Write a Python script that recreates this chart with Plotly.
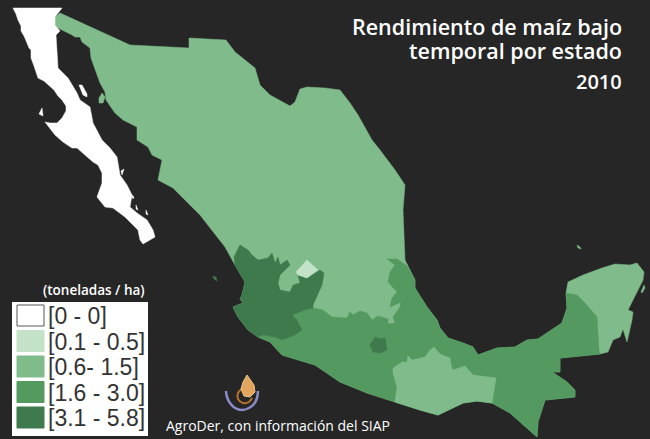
import plotly.graph_objects as go

BG = "#262626"
C0, C1, C2, C3, C4 = "#FFFFFF", "#C3E2C8", "#80BC8B", "#54995F", "#3F7A4C"

# Map outlines (map units match the reference's pixels)
mainland = [(55,17),(60,13),(130,45),(189,48),(189,38),(226,40),(235,52),(255,68),(260,85),(270,95),(290,106),
 (295,102),(300,89),(307,87),(325,88),(340,90),(350,103),(358,115),(372,140),(380,150),(395,170),(405,185),
 (403,210),(404,250),(405,260),(415,280),(415,288),(427,307),(437,320),(440,328),(448,338),(463,343),(473,347),(478,355),
 (497,348),(515,347),(527,340),(538,339),(562,323),(567,308),(566,293),(568,282),(583,275),(602,268),(615,264),
 (630,265),(637,263),(644,272),(643,280),(633,300),(628,310),(633,312),(632,320),(627,342),(623,329),(620,337),
 (613,340),(608,352),(600,354),(560,358),(560,372),(552,372),(567,382),(575,390),(575,397),(545,400),(538,422),
 (537,437),(510,413),(492,403),(477,401),(463,403),(438,415),(420,410),(395,402),(367,393),(340,382),(315,365),
 (282,355),(270,342),(258,337),(248,330),(238,317),(233,307),(243,303),(240,299),(242,295),(245,282),(235,265),(225,247),
 (200,215),(183,198),(173,188),(158,180),(162,160),(152,155),(148,147),(137,140),(137,127),(123,120),(115,113),
 (106,100),(105,92),(100,83),(95,68),(91,58),(90,48),(82,42),(80,37),(75,37),(72,35),(58,28),(55,25)]
baja = [(13,8),(16,14),(18,20),(21,26),(21,31),(24,36),(27,43),(29,48),(31,50),(31,58),(34,66),(36,73),(38,78),(44,81),
 (50,86),(54,90),(58,96),(62,100),(66,106),(66,111),(62,118),(57,123),(50,123),(45,122),(55,135),(63,142),(72,148),
 (77,148),(85,155),(93,162),(98,165),(102,173),(102,183),(98,193),(97,197),(105,207),(113,208),(125,217),(138,230),
 (140,240),(143,244),(155,237),(153,230),(147,220),(137,213),(130,207),(132,195),(127,185),(120,175),(117,157),
 (110,148),(102,140),(93,123),(90,107),(80,100),(77,93),(68,78),(58,68),(57,50),(56,35),(60,31),(55,25),(55,17),(62,8)]
medium = [(258,337),(263,335),(275,337),(282,340),(295,335),(302,330),(297,320),(292,315),(305,310),(313,308),(323,310),
 (332,317),(347,318),(350,312),(353,315),(360,311),(367,313),(372,320),(378,316),(388,319),(388,324),(395,323),(393,317),
 (400,307),(401,302),(390,307),(392,298),(397,292),(388,282),(390,272),(395,265),(387,259),(397,259),(407,266),
 (415,280),(415,288),(427,307),(437,320),(440,328),(448,338),(463,343),(473,347),(478,355),(497,348),(515,347),(527,340),(538,339),
 (562,323),(567,308),(566,293),(577,295),(585,303),(597,317),(599,350),(600,354),(560,358),(560,372),(552,372),
 (567,382),(575,390),(575,397),(545,400),(538,422),(537,437),(510,413),(492,403),(477,401),(463,403),(438,415),
 (420,410),(395,402),(367,393),(340,382),(315,365),(282,355),(270,342)]
oaxaca = [(393,368),(402,362),(407,362),(408,356),(412,360),(425,357),(430,350),(434,347),(440,354),(450,358),(451,365),
 (453,370),(465,366),(473,375),(496,378),(492,403),(477,401),(463,403),(438,415),(420,410),(395,402),(397,387),(393,373)]
jalisco = [(234,257),(240,245),(248,250),(252,255),(258,260),(268,258),(272,253),(275,263),(278,257),(280,265),(287,260),
 (290,265),(280,275),(278,283),(280,290),(290,292),(293,285),(300,283),(298,275),(307,278),(320,270),(324,273),(322,285),
 (313,305),(313,308),(305,310),(292,315),(297,320),(302,330),(295,335),(282,340),(275,337),(263,335),(258,337),(248,330),
 (238,317),(233,307),(243,303),(240,299),(242,295),(245,282),(235,265)]
morelos = [(370,345),(375,337),(380,339),(385,338),(387,350),(380,353),(373,352)]
zacatecas_spot = [(296,272),(307,260),(318,270),(307,278),(298,275)]
tiburon = [(99,98),(102,93),(105,97),(103,103),(99,103)]
isla_w1 = [(79,85),(82,85),(87,94),(87,97),(83,95)]
isla_w2 = [(39,114),(42,108),(43,116)]
isla_w3 = [(121,171),(124,169),(122,175)]
isla_w4 = [(131,194),(134,197),(133,199)]
isla_w5 = [(136,205),(138,210),(136,209)]
isla_w6 = [(146,210),(148,215),(146,214)]
cozumel = [(641,292),(644,285),(645,288),(642,293)]
mujeres = [(577,245),(580,247),(581,249),(578,248)]
marias = [(213,276),(216,277),(217,281),(214,279)]

regions = [(mainland,C2),(baja,C0),(medium,C3),(oaxaca,C2),(jalisco,C4),(morelos,C4),(zacatecas_spot,C1),
 (tiburon,C2),(isla_w1,C0),(isla_w2,C0),(isla_w3,C0),(isla_w4,C0),(isla_w5,C0),(isla_w6,C0),(cozumel,C2),(mujeres,C2),(marias,C4)]

legend_labels = ["[0 - 0]","[0.1 - 0.5]","[0.6- 1.5]","[1.6 - 3.0]","[3.1 - 5.8]"]
legend_colors = [C0,C1,C2,C3,C4]
legend_tops = [305,330.5,356,381.5,407]

logo_arc = [(226,391),(227,397),(230,403),(235,408),(242,410),(249,408),(254,404),(257,398),(258,391)]
logo_ring = [(243,388),(238,393),(238,399),(243,403),(249,402),(252,398)]
logo_drop = [(247,375),(243,382),(241,389),(244,396),(250,397),(255,392),(254,385),(250,379)]

fig = go.Figure()
for pts, col in regions:
    fig.add_trace(go.Scatter(x=[p[0] for p in pts]+[pts[0][0]], y=[p[1] for p in pts]+[pts[0][1]],
        mode="lines", fill="toself", fillcolor=col, line=dict(color=col, width=0.5), hoverinfo="skip", showlegend=False))
fig.add_trace(go.Scatter(x=[p[0] for p in logo_arc], y=[p[1] for p in logo_arc], mode="lines",
    line=dict(color="#8C8CC8", width=2.5, shape="spline"), hoverinfo="skip", showlegend=False))
fig.add_trace(go.Scatter(x=[p[0] for p in logo_ring], y=[p[1] for p in logo_ring], mode="lines",
    line=dict(color="#B8702A", width=2, shape="spline"), hoverinfo="skip", showlegend=False))
fig.add_trace(go.Scatter(x=[p[0] for p in logo_drop]+[logo_drop[0][0]], y=[p[1] for p in logo_drop]+[logo_drop[0][1]],
    mode="lines", fill="toself", fillcolor="#E3A45C", line=dict(color="#E8C090", width=1), hoverinfo="skip", showlegend=False))

shapes = [dict(type="rect", x0=12, x1=148, y0=302, y1=436, fillcolor="white", line_width=0, layer="above")]
annots = []
for lab, col, top in zip(legend_labels, legend_colors, legend_tops):
    shapes.append(dict(type="rect", x0=17, x1=44, y0=top, y1=top+21, fillcolor=col, layer="above",
        line=dict(color="#555555" if col == C0 else col, width=1)))
    annots.append(dict(x=46, y=top+11, text=lab, xanchor="left", yanchor="middle", showarrow=False,
        font=dict(family="Liberation Sans", size=23, color="#333333")))
annots += [
    dict(x=624, y=26, text="Rendimiento de maíz bajo", xanchor="right", yanchor="middle", showarrow=False,
         font=dict(family="Open Sans", size=21.5, color="white", weight=600)),
    dict(x=624, y=50, text="temporal por estado", xanchor="right", yanchor="middle", showarrow=False,
         font=dict(family="Open Sans", size=21.5, color="white", weight=600)),
    dict(x=624, y=81, text="2010", xanchor="right", yanchor="middle", showarrow=False,
         font=dict(family="Open Sans", size=20, color="white", weight=600)),
    dict(x=94, y=290, text="(toneladas / ha)", xanchor="center", yanchor="middle", showarrow=False,
         font=dict(family="Open Sans", size=13.5, color="white", weight=600)),
    dict(x=278, y=425, text="AgroDer, con información del SIAP", xanchor="center", yanchor="middle", showarrow=False,
         font=dict(family="Open Sans", size=14, color="white")),
]
fig.update_layout(width=650, height=439, margin=dict(l=0,r=0,t=0,b=0), paper_bgcolor=BG, plot_bgcolor=BG,
    xaxis=dict(range=[0,650], visible=False, fixedrange=True),
    yaxis=dict(range=[439,0], visible=False, fixedrange=True),
    shapes=shapes, annotations=annots, showlegend=False)
fig.write_html("out.html", config=dict(displayModeBar=False),
    post_script="document.body.style.margin='0';document.body.style.background='#262626';document.documentElement.style.overflow='hidden';")
